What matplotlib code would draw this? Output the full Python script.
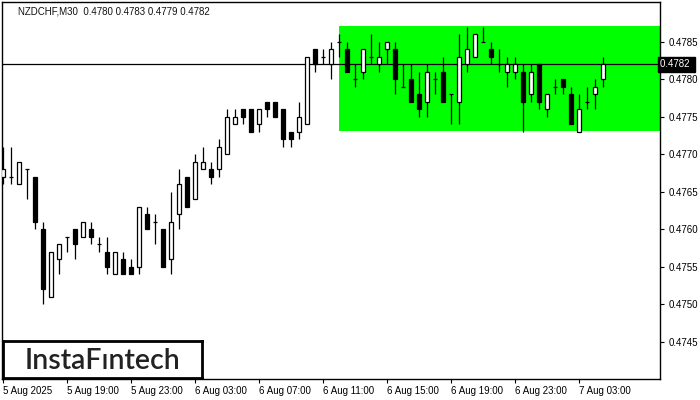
#!/usr/bin/python3

import numpy as np
import matplotlib
matplotlib.use('Agg')
import matplotlib.pyplot as plt
import matplotlib.patches as patches

SYMBOL = 'NZDCHF,M30'
LAST_OHLC = [0.4780, 0.4783, 0.4779, 0.4782]

# 30 min candles, 5 Aug 15:00 .. 7 Aug 04:30
opens = [0.4767, 0.4767, 0.4766, 0.4768, 0.4767, 0.4760, 0.4751, 0.4756, 0.4759, 0.4760,
         0.4759, 0.4760, 0.4758, 0.4757, 0.4754, 0.4756, 0.4755, 0.4755, 0.4762, 0.4761,
         0.4760, 0.4756, 0.4762, 0.4767, 0.4764, 0.4768, 0.4768, 0.4768, 0.4770, 0.4774,
         0.4776, 0.4776, 0.4774, 0.4777, 0.4777, 0.4776, 0.4773, 0.4773, 0.4774, 0.4784,
         0.4783, 0.4782, 0.4785, 0.4784, 0.4780, 0.4781, 0.4783, 0.4782, 0.4784, 0.4784,
         0.4779, 0.4780, 0.4778, 0.4777, 0.4780, 0.4781, 0.4778, 0.4777, 0.4782, 0.4783,
         0.4785, 0.4784, 0.4782, 0.4781, 0.4781, 0.4781, 0.4778, 0.4782, 0.4776, 0.4779,
         0.4780, 0.4778, 0.4773, 0.4777, 0.4778, 0.4780]
highs = [0.4771, 0.4771, 0.4769, 0.4768, 0.4767, 0.4761, 0.4757, 0.4758, 0.4759, 0.4760,
         0.4761, 0.4761, 0.4759, 0.4759, 0.4757, 0.4757, 0.4756, 0.4763, 0.4763, 0.4762,
         0.4760, 0.4765, 0.4768, 0.4767, 0.4770, 0.4771, 0.4769, 0.4772, 0.4776, 0.4776,
         0.4776, 0.4776, 0.4776, 0.4777, 0.4777, 0.4776, 0.4773, 0.4777, 0.4783, 0.4784,
         0.4784, 0.4785, 0.4786, 0.4785, 0.4782, 0.4784, 0.4786, 0.4785, 0.4785, 0.4785,
         0.4782, 0.4782, 0.4781, 0.4782, 0.4781, 0.4783, 0.4778, 0.4786, 0.4787, 0.4786,
         0.4787, 0.4785, 0.4784, 0.4783, 0.4783, 0.4782, 0.4782, 0.4782, 0.4778, 0.4780,
         0.4780, 0.4779, 0.4778, 0.4779, 0.4780, 0.4783]
lows = [0.4766, 0.4766, 0.4766, 0.4764, 0.4760, 0.4750, 0.4751, 0.4754, 0.4757, 0.4756,
        0.4759, 0.4758, 0.4757, 0.4754, 0.4754, 0.4754, 0.4754, 0.4754, 0.4760, 0.4758,
        0.4755, 0.4754, 0.4760, 0.4763, 0.4764, 0.4768, 0.4766, 0.4767, 0.4770, 0.4774,
        0.4774, 0.4773, 0.4773, 0.4775, 0.4775, 0.4771, 0.4771, 0.4772, 0.4774, 0.4781,
        0.4782, 0.4780, 0.4783, 0.4781, 0.4779, 0.4780, 0.4782, 0.4781, 0.4782, 0.4778,
        0.4779, 0.4777, 0.4775, 0.4775, 0.4778, 0.4777, 0.4774, 0.4774, 0.4781, 0.4783,
        0.4785, 0.4782, 0.4781, 0.4779, 0.4780, 0.4773, 0.4777, 0.4776, 0.4775, 0.4778,
        0.4778, 0.4774, 0.4773, 0.4776, 0.4776, 0.4779]
closes = [0.4768, 0.4767, 0.4769, 0.4768, 0.4761, 0.4752, 0.4757, 0.4758, 0.4759, 0.4758,
          0.4761, 0.4759, 0.4758, 0.4755, 0.4757, 0.4754, 0.4754, 0.4763, 0.4760, 0.4761,
          0.4755, 0.4761, 0.4766, 0.4763, 0.4769, 0.4769, 0.4767, 0.4771, 0.4775, 0.4775,
          0.4775, 0.4773, 0.4776, 0.4776, 0.4775, 0.4772, 0.4772, 0.4775, 0.4783, 0.4782,
          0.4783, 0.4784, 0.4785, 0.4781, 0.4780, 0.4784, 0.4783, 0.4783, 0.4785, 0.4780,
          0.4779, 0.4777, 0.4776, 0.4781, 0.4780, 0.4777, 0.4778, 0.4783, 0.4784, 0.4786,
          0.4785, 0.4783, 0.4782, 0.4782, 0.4782, 0.4777, 0.4781, 0.4777, 0.4778, 0.4779,
          0.4779, 0.4774, 0.4776, 0.4777, 0.4779, 0.4782]

# flat range (rectangle pattern)
zone_start = 42
zone_top = 0.47871
zone_bottom = 0.47731
current_price = 0.4782

x_labels = ['5 Aug 2025', '5 Aug 19:00', '5 Aug 23:00', '6 Aug 03:00', '6 Aug 07:00',
            '6 Aug 11:00', '6 Aug 15:00', '6 Aug 19:00', '6 Aug 23:00', '7 Aug 03:00']
y_ticks = [0.4745, 0.4750, 0.4755, 0.4760, 0.4765, 0.4770, 0.4775, 0.4780, 0.4785]

FONT = 'Liberation Sans'


def draw_candles(ax, o, h, l, c) -> None:
    x = np.arange(len(o))
    o, h, l, c = map(np.asarray, (o, h, l, c))
    ax.vlines(x, l, h, color = 'black', linewidth = 0.9, zorder = 2)
    up = c >= o
    colors = np.where(up, 'white', 'black')
    ax.bar(x, c - o, bottom = o, width = 0.55, color = colors,
        edgecolor = 'black', linewidth = 0.9, zorder = 3)


def main() -> None:
    fig = plt.figure(figsize = (7, 4), dpi = 100)
    ax = fig.add_axes([2 / 700, 21 / 400, 658 / 700, 377 / 400])

    ax.set_xlim(-0.125, 82.125)
    ax.set_ylim(0.47400, 0.47903)

    ax.add_patch(patches.Rectangle((zone_start, zone_bottom), 100, zone_top - zone_bottom,
        facecolor = '#00ff00', edgecolor = 'none', zorder = 1))
    ax.axhline(current_price, color = 'black', linewidth = 0.9, zorder = 1.5)

    draw_candles(ax, opens, highs, lows, closes)

    ax.set_xticks(np.arange(0, 8 * len(x_labels), 8))
    ax.set_xticklabels(x_labels, ha = 'left', fontsize = 7, family = FONT)
    ax.tick_params(axis = 'x', length = 3, width = 0.8, pad = 2)

    ax.yaxis.tick_right()
    ax.set_yticks(y_ticks)
    ax.set_yticklabels(['%.4f' % t for t in y_ticks], fontsize = 7, family = FONT)
    ax.tick_params(axis = 'y', length = 3, width = 0.8, pad = 3)

    for s in ax.spines.values():
        s.set_linewidth(1.0)

    ax.text(1.0, current_price, '%.4f ' % current_price, transform = ax.get_yaxis_transform(),
        ha = 'left', va = 'center', fontsize = 7, family = FONT, color = 'white',
        bbox = dict(boxstyle = 'square,pad=0.25', facecolor = 'black', edgecolor = 'black'),
        zorder = 5, clip_on = False)

    title = '%s  %.4f %.4f %.4f %.4f' % (SYMBOL, *LAST_OHLC)
    fig.text(18 / 700, 1 - 11 / 400, title, ha = 'left', va = 'center',
        fontsize = 7, family = FONT, color = '#111111')

    # logo box
    logo = fig.add_axes([3 / 700, 22 / 400, 199 / 700, 37 / 400])
    logo.set_xticks([])
    logo.set_yticks([])
    for s in logo.spines.values():
        s.set_linewidth(2)
    logo.text(0.5, 0.46, 'InstaFıntech', ha = 'center', va = 'center',
        fontsize = 20.5, family = 'Lato', weight = 'semibold', color = '#222222',
        transform = logo.transAxes)

    fig.savefig('out.png', dpi = 100)


if __name__ == '__main__':
    main()
